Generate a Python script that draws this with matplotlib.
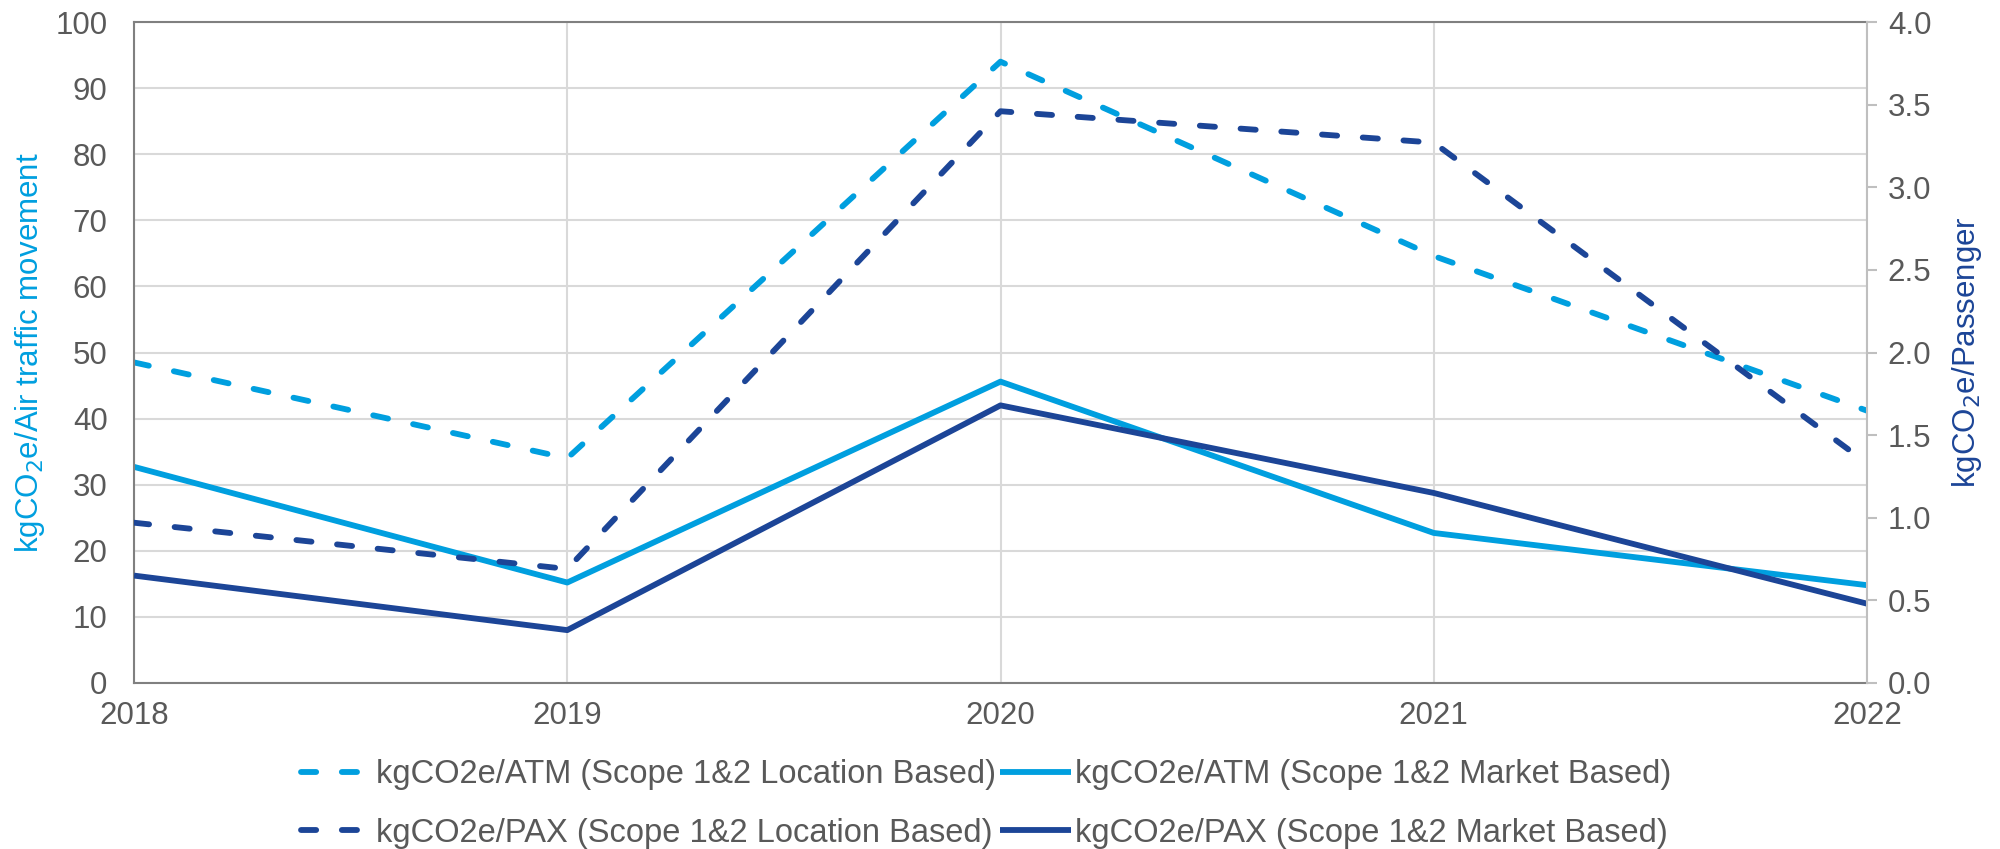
import matplotlib
matplotlib.use("Agg")
import matplotlib.pyplot as plt

plt.rcParams['font.family'] = ['Liberation Sans', 'DejaVu Sans']

years = [2018, 2019, 2020, 2021, 2022]
atm_location = [48.5, 34.0, 94.0, 64.6, 41.2]
atm_market = [32.7, 15.2, 45.6, 22.7, 14.8]
pax_location = [0.97, 0.69, 3.46, 3.27, 1.33]
pax_market = [0.65, 0.32, 1.68, 1.15, 0.48]

light_blue = '#009FDF'
dark_blue = '#1C4597'
text_grey = '#595959'
grid_grey = '#D9D9D9'

fs = 22.5

fig = plt.figure(figsize=(20, 8.49), dpi=100)
ax = fig.add_axes([134 / 2000, 1 - 683 / 849, (1867 - 134) / 2000, (683 - 22) / 849])
ax2 = ax.twinx()

lw = 4.2
dash = (0, (2.6, 4.4))
l1, = ax.plot(years, atm_location, color=light_blue, lw=lw, linestyle=dash,
              dash_capstyle='round', label='kgCO2e/ATM (Scope 1&2 Location Based)')
l2, = ax.plot(years, atm_market, color=light_blue, lw=lw, solid_capstyle='butt',
              label='kgCO2e/ATM (Scope 1&2 Market Based)')
l3, = ax2.plot(years, pax_location, color=dark_blue, lw=lw, linestyle=dash,
               dash_capstyle='round', label='kgCO2e/PAX (Scope 1&2 Location Based)')
l4, = ax2.plot(years, pax_market, color=dark_blue, lw=lw, solid_capstyle='butt',
               label='kgCO2e/PAX (Scope 1&2 Market Based)')

ax.set_xlim(2018, 2022)
ax.set_ylim(0, 100)
ax2.set_ylim(0, 4)
ax.set_xticks(years)
ax.set_yticks(range(0, 101, 10))
ax2.set_yticks([i * 0.5 for i in range(9)])
ax2.set_yticklabels([f'{i * 0.5:.1f}' for i in range(9)])

ax.grid(True, color=grid_grey, lw=1.5)
ax.set_axisbelow(True)

for s in ['left', 'bottom', 'top']:
    ax.spines[s].set_color('#808080')
    ax.spines[s].set_linewidth(1.5)
for s in ['left', 'bottom', 'top']:
    ax2.spines[s].set_visible(False)
ax.spines['right'].set_visible(False)
ax2.spines['right'].set_color('#BFBFBF')
ax2.spines['right'].set_linewidth(1.5)

ax.tick_params(axis='x', length=0, pad=13, labelsize=fs, labelcolor=text_grey)
ax.tick_params(axis='y', length=0, pad=19, labelsize=fs, labelcolor=text_grey)
ax2.tick_params(axis='y', length=7, width=1.5, color='#BFBFBF', pad=8,
                labelsize=fs, labelcolor=text_grey)

ax.set_ylabel('kgCO$_2$e/Air traffic movement', color=light_blue, fontsize=fs, labelpad=6)
ax2.set_ylabel('kgCO$_2$e/Passenger', color=dark_blue, fontsize=fs, labelpad=13)

leg = fig.legend(handles=[l1, l3, l2, l4], loc='center', ncol=2,
                 bbox_to_anchor=(986 / 2000, 1 - 804 / 849), frameon=False,
                 fontsize=23.5, labelcolor=text_grey, handlelength=2.2,
                 handletextpad=0.1, columnspacing=0.1, labelspacing=0.85)

fig.savefig('out.png', dpi=100)
